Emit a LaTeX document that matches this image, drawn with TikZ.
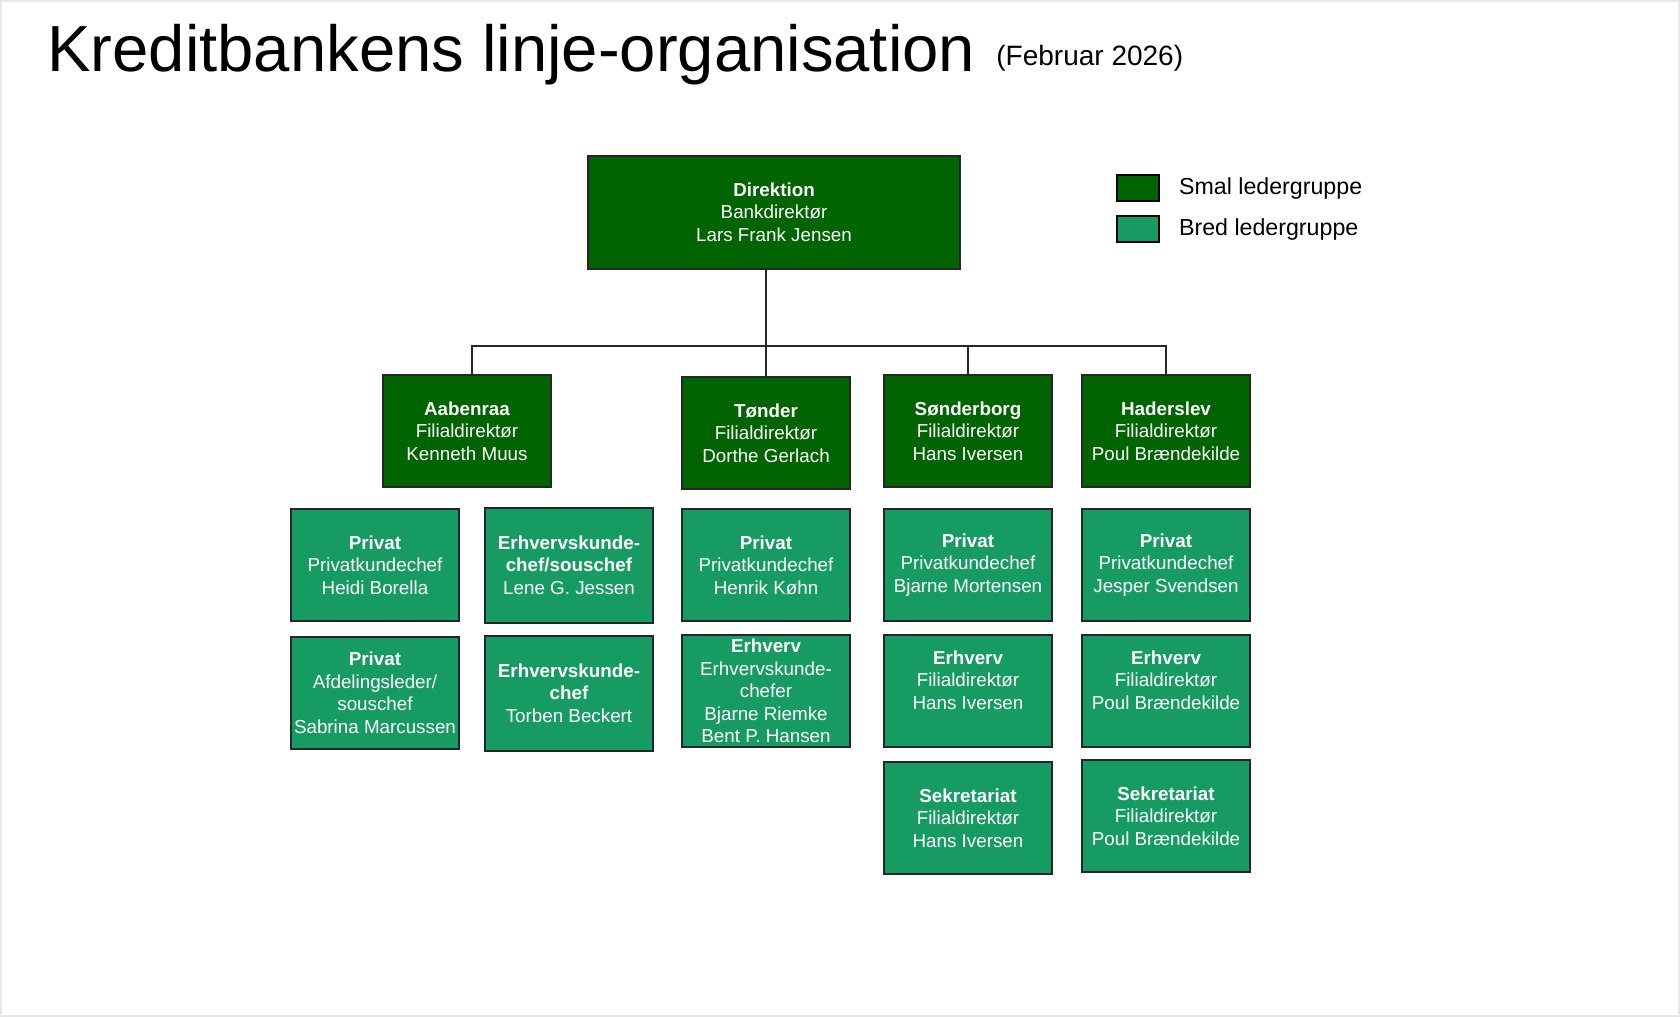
\documentclass[tikz,border=0pt]{standalone}
\usepackage{fontspec}
\setmainfont{Liberation Sans}
\usetikzlibrary{positioning}
\definecolor{SmalGreen}{RGB}{0,100,0}
\definecolor{BredGreen}{RGB}{22,155,98}
\definecolor{LineGray}{RGB}{40,40,40}
\definecolor{FrameGray}{RGB}{232,232,232}

\begin{document}
\begin{tikzpicture}[x=0.5pt,y=-0.5pt,
    smal/.style={rectangle,draw=black!85,line width=1pt,fill=SmalGreen,text=white,
                 minimum width=84pt,minimum height=56pt,inner sep=0.5pt,align=center,
                 font=\fontsize{9.4}{11.25}\selectfont},
    bred/.style={smal,fill=BredGreen},
    link/.style={line width=1pt,LineGray},
    legbox/.style={rectangle,draw=black,line width=1pt,minimum width=21pt,minimum height=13pt,inner sep=0pt},
    legtext/.style={font=\fontsize{11.6}{14}\selectfont}
]
\useasboundingbox (0,0) rectangle (1680,1017);
\draw[FrameGray,line width=1pt] (1,1) rectangle (1679,1016);

% Title
\node[font=\fontsize{32.6}{39}\selectfont,anchor=base west,inner sep=0pt] (title) at (47,71) {Kreditbankens linje-organisation};
\node[font=\fontsize{14}{17}\selectfont,anchor=base west,inner sep=0pt] (date) at (996,65) {(Februar 2026)};

% Direktion
\node[smal,minimum width=186pt,minimum height=56.5pt] (dir) at (774,212) {\textbf{Direktion}\\Bankdirektør\\Lars Frank Jensen};

% Legend
\node[legbox,fill=SmalGreen] (legSmal) at (1138,188) {};
\node[legbox,fill=BredGreen,below=6.5pt of legSmal] (legBred) {};
\node[legtext,right=6pt of legSmal] (legSmalTxt) {Smal ledergruppe};
\node[legtext,right=6pt of legBred] (legBredTxt) {Bred ledergruppe};

% Branches
\node[smal] (aab) at (467,431) {\textbf{Aabenraa}\\Filialdirektør\\Kenneth Muus};
\node[smal,right=64.5pt of aab,yshift=-1pt] (ton) {\textbf{Tønder}\\Filialdirektør\\Dorthe Gerlach};
\node[smal,right=16pt of aab.east -| ton.east,anchor=west] (son) {\textbf{Sønderborg}\\Filialdirektør\\Hans Iversen};
\node[smal,right=14pt of son] (had) {\textbf{Haderslev}\\Filialdirektør\\Poul Brændekilde};

% Aabenraa
\node[bred] (aabPriv) at (375,565) {\textbf{Privat}\\Privatkundechef\\Heidi Borella};
\node[bred,right=12pt of aabPriv,minimum height=57.5pt] (aabErhv) {\textbf{Erhvervskunde-}\\\textbf{chef/souschef}\\Lene G. Jessen};
\node[bred,below=7pt of aabPriv] (aabAfd) {\textbf{Privat}\\Afdelingsleder/\\souschef\\Sabrina Marcussen};
\node[bred,below=5.5pt of aabErhv,minimum height=57.5pt] (aabChef) {\textbf{Erhvervskunde-}\\\textbf{chef}\\Torben Beckert};

% Tønder
\node[bred,below=9pt of ton] (tonPriv) {\textbf{Privat}\\Privatkundechef\\Henrik Køhn};
\node[bred,below=6pt of tonPriv] (tonErhv) {\textbf{Erhverv}\\Erhvervskunde-\\chefer\\Bjarne Riemke\\Bent P. Hansen};

% Sønderborg
\node[bred,below=10pt of son] (sonPriv) {\textbf{Privat}\\Privatkundechef\\Bjarne Mortensen};
\node[bred,below=6pt of sonPriv] (sonErhv) {\textbf{Erhverv}\\Filialdirektør\\Hans Iversen\\\mbox{}};
\node[bred,below=6.5pt of sonErhv] (sonSek) {\textbf{Sekretariat}\\Filialdirektør\\Hans Iversen};

% Haderslev
\node[bred,below=10pt of had] (hadPriv) {\textbf{Privat}\\Privatkundechef\\Jesper Svendsen};
\node[bred,below=6pt of hadPriv] (hadErhv) {\textbf{Erhverv}\\Filialdirektør\\Poul Brændekilde\\\mbox{}};
\node[bred,below=5.5pt of hadErhv] (hadSek) {\textbf{Sekretariat}\\Filialdirektør\\Poul Brændekilde};

% Lines
\coordinate (bar) at (0,346);
\draw[link] (dir.south -| ton.north) -- (ton.north);
\draw[link] ([xshift=2.5pt]aab.north) -- ([xshift=2.5pt]aab.north |- bar) -- (had.north |- bar) -- (had.north);
\draw[link] (son.north |- bar) -- (son.north);

\end{tikzpicture}
\end{document}
